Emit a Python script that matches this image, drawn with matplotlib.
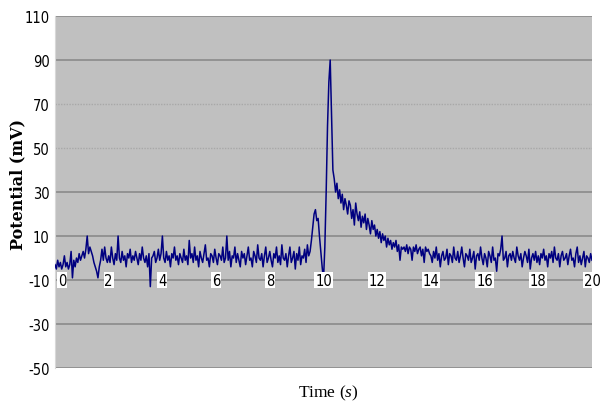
import matplotlib
matplotlib.use('Agg')
import matplotlib.pyplot as plt
import numpy as np

plt.rcParams['mathtext.fontset'] = 'custom'
plt.rcParams['mathtext.rm'] = 'Liberation Serif'
plt.rcParams['mathtext.it'] = 'Liberation Serif:italic'

# sampled potential, one row per second (dt = 0.05 s)
dt = 0.05
potential = [
    -3, -5, -1, -4, -2, -5, -3, 1, -4, -2, -5, -3, 3, -9, -1, -4, 0, -2, 2, -1,
    1, 3, 0, 4, 10, 2, 5, 3, 1, -2, -4, -6, -9, -4, -1, 4, -1, 5, 0, -2,
    1, -2, 5, 0, -3, 2, -1, 10, 0, -2, 3, -1, 1, -4, 2, 0, 4, -2, 1, -1,
    3, 0, -3, 2, -1, 5, 0, -2, 1, -4, 2, -13, 0, 1, 3, -2, 0, 4, -1, 2,
    10, 0, -2, 3, -1, 1, -4, 2, 0, 5, -1, 1, -3, 2, 0, -2, 4, -1, 1, -3,
    8, 0, 2, -2, 5, -1, 1, -4, 3, 0, -2, 2, 6, -1, 0, -4, 2, 1, -2, 4,
    0, -3, 2, 1, -1, 5, -2, 0, 10, -1, 3, -4, 1, 0, 5, -2, 2, -1, -4, 3,
    0, 2, -3, 1, 5, -1, 0, -4, 3, 1, -2, 6, 0, -1, 2, -4, 1, 5, -2, 0,
    3, -1, -4, 2, 0, 5, -2, 1, -3, 6, 0, -1, 2, -4, 1, 5, -2, 0, 3, -5,
    2, -1, 5, -3, 1, 0, 4, -2, 6, 1, 3, 8, 14, 20, 22, 17, 18, 10, 3, -4,
    -10, 5, 30, 60, 80, 90, 65, 40, 36, 30, 34, 27, 31, 25, 29, 22, 27, 24, 20, 26,
    24, 18, 22, 15, 25, 20, 17, 21, 14, 19, 16, 20, 13, 18, 15, 11, 17, 13, 15, 10,
    13, 9, 12, 7, 11, 8, 10, 5, 9, 6, 8, 4, 7, 5, 8, 3, 6, -1, 5, 4,
    5, 3, 6, 2, 5, 4, -1, 5, 3, 6, 2, 4, 5, 1, 4, -2, 5, 3, 4, 2,
    1, -2, 3, 0, 5, -1, 2, -4, 1, 3, -1, 0, 4, -3, 2, 1, -2, 5, 0, -1,
    3, -2, 1, 5, 0, -4, 2, 1, -1, 4, -2, 0, 3, -5, 1, 2, -1, 5, 0, -3,
    2, 0, -4, 3, 1, -2, 5, -1, 0, -6, 2, 1, 4, 10, -1, 0, 3, -4, 1, 2,
    -1, 3, 0, -2, 5, 1, -1, 2, -4, 0, 3, 1, -2, 4, -5, 0, 2, -1, 3, -2,
    1, -3, 2, 0, 4, -1, 1, -4, 2, 0, 3, -2, 5, 0, -1, 2, -4, 1, 3, -1,
    0, 2, -3, 1, 4, -1, 0, -4, 2, 5, -2, 1, -3, 0, 3, -4, 1, 0, -2, 2,
    -1,
]
time = np.arange(len(potential)) * dt

x_ticks = [0, 2, 4, 6, 8, 10, 12, 14, 16, 18, 20]
y_ticks = [-50, -30, -10, 10, 30, 50, 70, 90, 110]
dotted_rows = [50, 70]

fig = plt.figure(figsize=(6.01, 4.02), dpi=100)
ax = fig.add_axes([0.0915, 0.082, 0.8935, 0.8756])
ax.set_facecolor('#c0c0c0')
ax.set_xlim(0, 20)
ax.set_ylim(-50, 110)

for y in y_ticks:
    if y in dotted_rows:
        ax.axhline(y, color='#a8a8a8', lw=1, ls=(0, (1, 1)), zorder=1)
    else:
        ax.axhline(y, color='#8a8a8a', lw=1.2, zorder=1)

ax.plot(time, potential, color='#000080', lw=1.1, zorder=3)

# x labels sit on the axis crossing line, with white boxes
for t in x_ticks:
    ax.text(t + (0.12 if t == 0 else 0), -10, str(t),
            ha='left' if t == 0 else 'center', va='center', fontsize=10.5,
            family='DejaVu Sans', fontstretch='condensed', zorder=4,
            bbox=dict(facecolor='white', edgecolor='none', pad=0.5))

ax.set_xticks([])
ax.set_yticks(y_ticks)
ax.set_yticklabels([str(v) for v in y_ticks], family='DejaVu Sans',
                   fontstretch='condensed', fontsize=10.5)
ax.tick_params(axis='y', length=0, pad=4)
for side in ['top', 'bottom', 'right']:
    ax.spines[side].set_visible(False)
ax.spines['left'].set_color('#d8d8d8')

fig.text(0.03, 0.54, 'Potential (mV)', rotation=90, ha='center', va='center',
         family='DejaVu Serif', fontweight='bold', fontsize=11.5)
fig.text(0.546, 0.022, 'Time ($\\it{s}$)', ha='center', va='center',
         family='Liberation Serif', fontsize=12.5)

fig.savefig('out.png', dpi=100)
